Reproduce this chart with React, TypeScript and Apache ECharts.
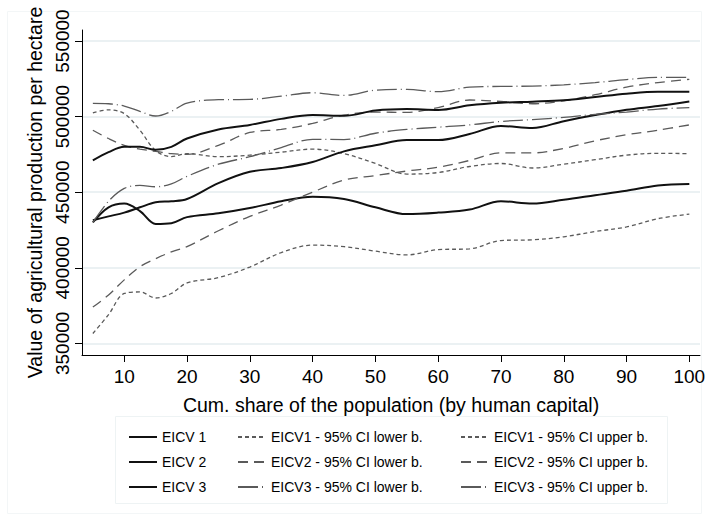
import React, { useEffect, useRef } from "react";
import * as echarts from "echarts";

const xs = [5, 7.5, 10, 12.5, 15, 17.5, 20, 25, 30, 35, 40, 45, 50, 55, 60, 65, 70, 75, 80, 85, 90, 95, 100];

// values in thousands
const eicv1 = [430, 440, 442.5, 437.5, 429, 429.5, 433.5, 436, 439.5, 444, 447, 445.5, 440, 435.5, 436.5, 438.5, 444, 442.5, 445, 448, 451, 454.5, 455.5];
const eicv1Lower = [356.5, 369, 383, 384, 380, 383, 390, 393.5, 400.5, 410, 415, 414, 411, 408.5, 412, 412.5, 418, 418.5, 420.5, 424, 427, 432.5, 435.5];
const eicv1Upper = [502.5, 504.5, 502, 491, 477.5, 473.5, 475.5, 473.5, 474.5, 476.5, 478.5, 475.5, 469, 462, 463, 467, 469, 466, 468.5, 471.5, 474.5, 475.7, 475.5];

const eicv2 = [431.5, 434, 436.5, 440, 443.3, 444, 445.5, 456, 463.5, 466, 470, 477, 481, 484.5, 484.5, 488.5, 493.8, 492.5, 497, 501, 504.5, 507, 510];
const eicv2Lower = [374, 382, 392, 400.7, 406, 410.5, 414, 424.5, 434, 441.5, 450, 458, 461, 464, 466.5, 471, 476, 476, 479, 484, 488, 491, 494.5];
const eicv2Upper = [491, 485.5, 481, 478.5, 477, 475.5, 475, 481, 489.5, 491.5, 495.5, 501, 503, 502.8, 506, 511, 510, 508.5, 510.5, 514.5, 519.5, 522.5, 524.7];

const eicv3 = [471, 476.5, 480, 480, 478, 480, 485.5, 491.5, 494.5, 498.5, 501, 500.5, 504, 505, 504.4, 507.5, 509.2, 509.9, 510.8, 513, 515.2, 516.5, 516.5];
const eicv3Lower = [430, 444, 452.5, 454.5, 453.6, 455.5, 460.5, 468.5, 473.5, 479.5, 485, 484.8, 489, 491.5, 493, 494.5, 496.8, 498, 499.5, 501.5, 503, 505, 506];
const eicv3Upper = [508.8, 508.5, 507, 503.5, 500.4, 503.5, 509, 511.2, 511.4, 513.5, 515.8, 514, 517.5, 518, 516.5, 519.5, 520, 520.2, 521, 522.5, 524.5, 526, 526];

const xTicks = [10, 20, 30, 40, 50, 60, 70, 80, 90, 100];
const yTicks = [350000, 400000, 450000, 500000, 550000];

const seriesNames = {
  e1: "EICV 1",
  e2: "EICV 2",
  e3: "EICV 3",
  l1: "EICV1 - 95% CI lower b.",
  l2: "EICV2 - 95% CI lower b.",
  l3: "EICV3 - 95% CI lower b.",
  u1: "EICV1 - 95% CI upper b.",
  u2: "EICV2 - 95% CI upper b.",
  u3: "EICV3 - 95% CI upper b.",
};

const FONT = "'Liberation Sans', Arial, sans-serif";

export default function App() {
  const ref = useRef<HTMLDivElement>(null);
  useEffect(() => {
    if (!ref.current) return;
    const chart = echarts.init(ref.current, null, { renderer: "svg" });
    const toData = (arr: number[]) => arr.map((v, i) => [xs[i], v * 1000]);
    const solid = { color: "#111", width: 2, type: "solid" };
    const dash1 = { color: "#5a5a5a", width: 1.3, type: [4, 3] };
    const dash2 = { color: "#5a5a5a", width: 1.3, type: [10, 6] };
    const dash3 = { color: "#5a5a5a", width: 1.3, type: [20, 4, 1, 4] };
    const mk = (name: string, arr: number[], ls: any) => ({
      name,
      type: "line",
      data: toData(arr),
      smooth: 0.35,
      symbol: "none",
      lineStyle: ls,
      itemStyle: { color: ls.color, opacity: 0 },
      emphasis: { disabled: true },
    });
    const legendBase = {
      orient: "vertical",
      itemWidth: 28,
      itemHeight: 14,
      itemGap: 11,
      top: 425,
      itemStyle: { opacity: 0 },
      textStyle: { fontFamily: FONT, fontSize: 14, color: "#000" },
      selectedMode: false,
    };
    chart.setOption({
      animation: false,
      backgroundColor: "#fff",
      grid: { left: 82, top: 30, right: 9, bottom: 165, containLabel: false },
      xAxis: {
        type: "value",
        min: 3.27,
        max: 101.7,
        name: "Cum. share of the population (by human capital)",
        nameLocation: "middle",
        nameGap: 40,
        nameTextStyle: { fontFamily: FONT, fontSize: 19.5, color: "#000" },
        axisLine: { show: true, lineStyle: { color: "#000", width: 1 } },
        axisTick: { show: true, length: 7, customValues: xTicks, lineStyle: { color: "#000" } },
        axisLabel: {
          customValues: xTicks,
          fontFamily: FONT,
          fontSize: 19,
          color: "#000",
          margin: 12,
          formatter: (v: number) => String(v),
        },
        splitLine: { show: false },
      },
      yAxis: {
        type: "value",
        min: 342300,
        max: 557300,
        name: "Value of agricultural production per hectare",
        nameLocation: "middle",
        nameRotate: 90,
        nameGap: 36,
        nameTextStyle: { fontFamily: FONT, fontSize: 19.5, color: "#000" },
        axisLine: { show: true, lineStyle: { color: "#000", width: 1 } },
        axisTick: { show: true, length: 7, customValues: yTicks, lineStyle: { color: "#000" } },
        axisLabel: {
          customValues: yTicks,
          rotate: 90,
          fontFamily: FONT,
          fontSize: 19,
          color: "#000",
          margin: 10,
          formatter: (v: number) => String(v),
        },
        splitLine: { show: true, lineStyle: { color: "#e4ecef", width: 1.5 } },
      },
      legend: [
        { ...legendBase, left: 123, data: [seriesNames.e1, seriesNames.e2, seriesNames.e3] },
        { ...legendBase, left: 232, data: [seriesNames.l1, seriesNames.l2, seriesNames.l3] },
        { ...legendBase, left: 455, data: [seriesNames.u1, seriesNames.u2, seriesNames.u3] },
      ],
      graphic: [
        {
          type: "rect",
          shape: { x: 7.5, y: 11.5, width: 694, height: 502 },
          style: { fill: "none", stroke: "#f3f6f7", lineWidth: 1 },
          silent: true,
          z: -1,
        },
        {
          type: "rect",
          shape: { x: 115.5, y: 416.5, width: 552, height: 87 },
          style: { fill: "none", stroke: "#eef3f4", lineWidth: 1 },
          silent: true,
          z: -1,
        },
      ],
      series: [
        mk(seriesNames.e1, eicv1, solid),
        mk(seriesNames.l1, eicv1Lower, dash1),
        mk(seriesNames.u1, eicv1Upper, dash1),
        mk(seriesNames.e2, eicv2, solid),
        mk(seriesNames.l2, eicv2Lower, dash2),
        mk(seriesNames.u2, eicv2Upper, dash2),
        mk(seriesNames.e3, eicv3, solid),
        mk(seriesNames.l3, eicv3Lower, dash3),
        mk(seriesNames.u3, eicv3Upper, dash3),
      ],
    });
    return () => chart.dispose();
  }, []);
  return (
    <div
      ref={ref}
      style={{ position: "absolute", left: 0, top: 0, width: 709, height: 520 }}
    />
  );
}
